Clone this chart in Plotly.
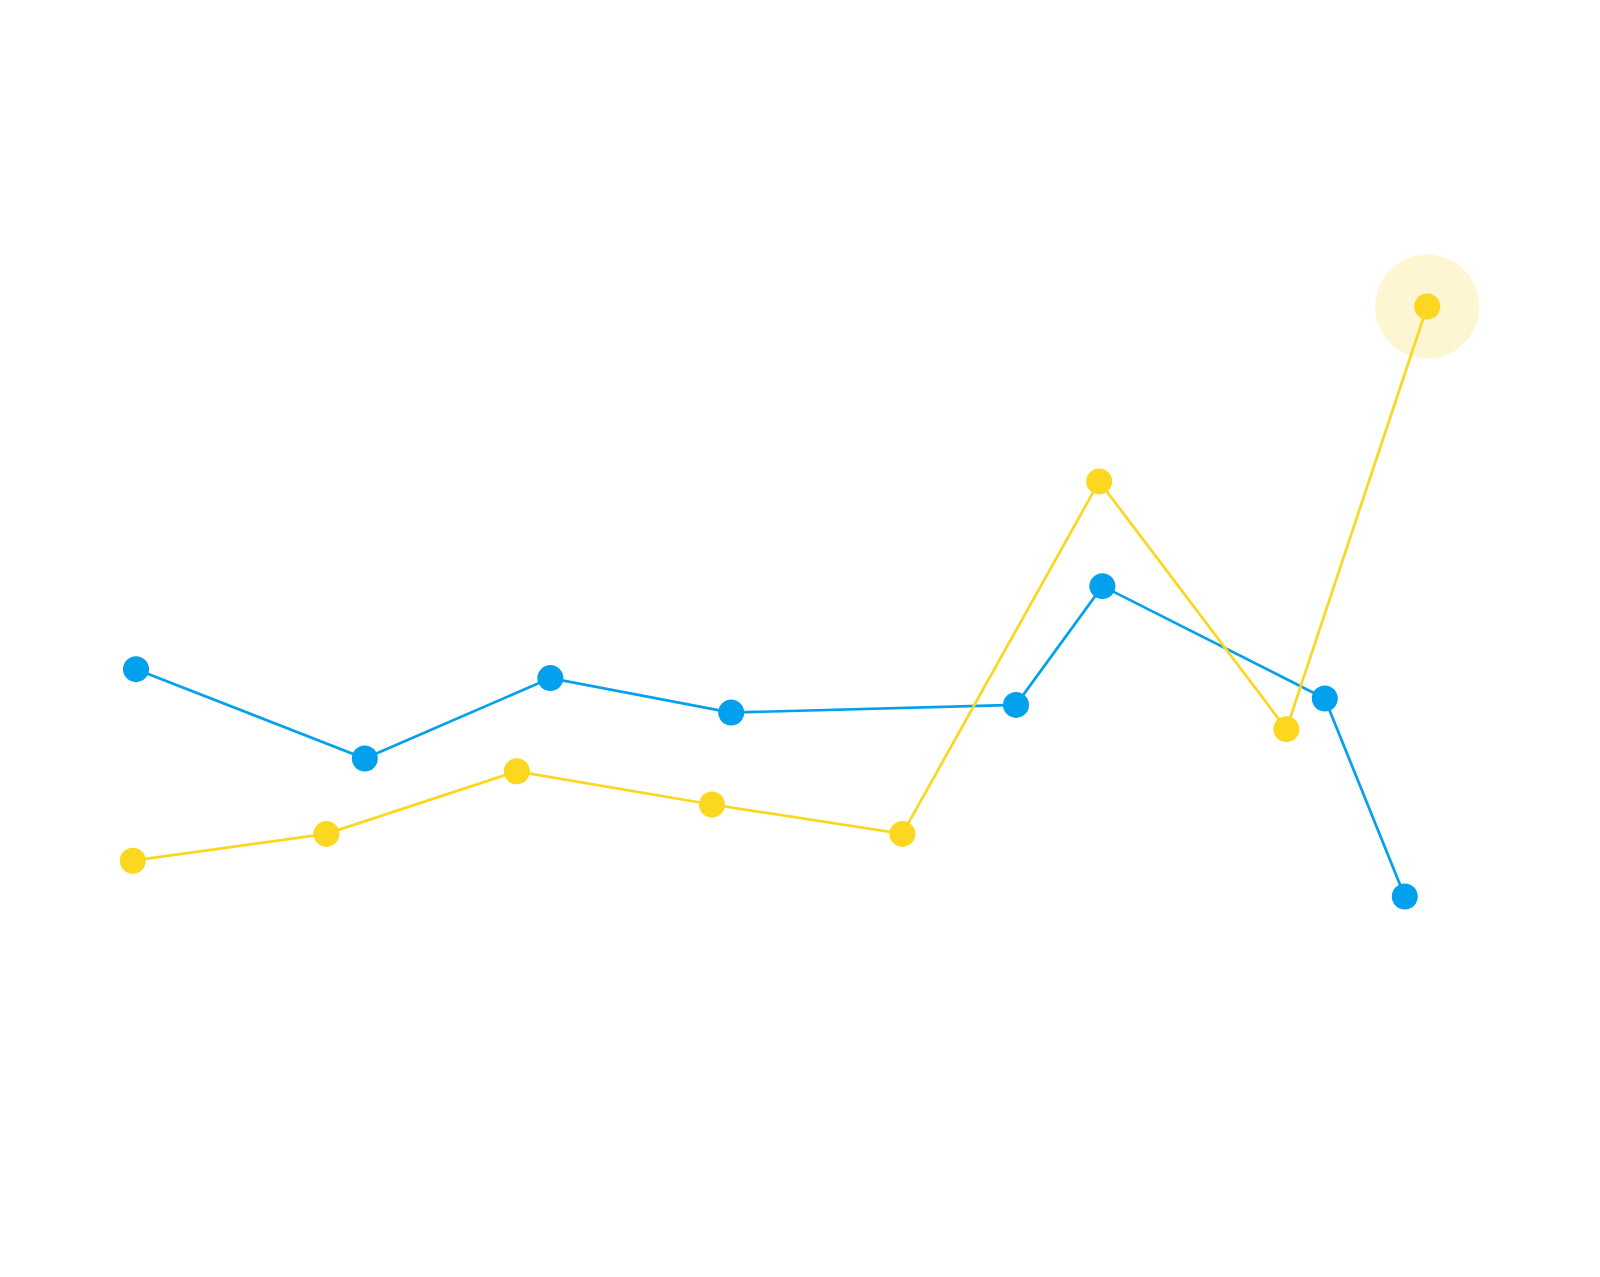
import plotly.graph_objects as go

# blue series
blue_x = [8.5, 22.8, 34.4, 45.7, 63.5, 68.9, 82.8, 87.8]
blue_y = [47.6, 40.6, 46.9, 44.2, 44.8, 54.1, 45.3, 29.8]

# yellow series
yellow_x = [8.3, 20.4, 32.3, 44.5, 56.4, 68.7, 80.4, 89.2]
yellow_y = [32.6, 34.7, 39.6, 37.0, 34.7, 62.3, 42.9, 76.0]

BLUE = "#03a0ee"
YELLOW = "#fbd720"

fig = go.Figure()

# soft halo on the last yellow point
fig.add_trace(go.Scatter(
    x=yellow_x[-1:], y=yellow_y[-1:], mode="markers",
    marker=dict(size=104, color="#fef6d2", line=dict(width=0)),
    hoverinfo="skip",
))

fig.add_trace(go.Scatter(
    x=blue_x, y=blue_y, mode="lines+markers",
    line=dict(color=BLUE, width=2.7),
    marker=dict(size=26, color=BLUE, line=dict(width=0)),
))

fig.add_trace(go.Scatter(
    x=yellow_x, y=yellow_y, mode="lines+markers",
    line=dict(color=YELLOW, width=2.7),
    marker=dict(size=26, color=YELLOW, line=dict(width=0)),
))

fig.update_layout(
    width=1600, height=1277,
    margin=dict(l=0, r=0, t=0, b=0),
    paper_bgcolor="white", plot_bgcolor="white",
    showlegend=False,
    xaxis=dict(range=[0, 100], visible=False, fixedrange=True),
    yaxis=dict(range=[0, 100], visible=False, fixedrange=True),
)

# drop the default page margin so the chart sits at the window edge
fig.write_html("out.html", config={"displayModeBar": False},
               post_script="document.body.style.margin='0';")
